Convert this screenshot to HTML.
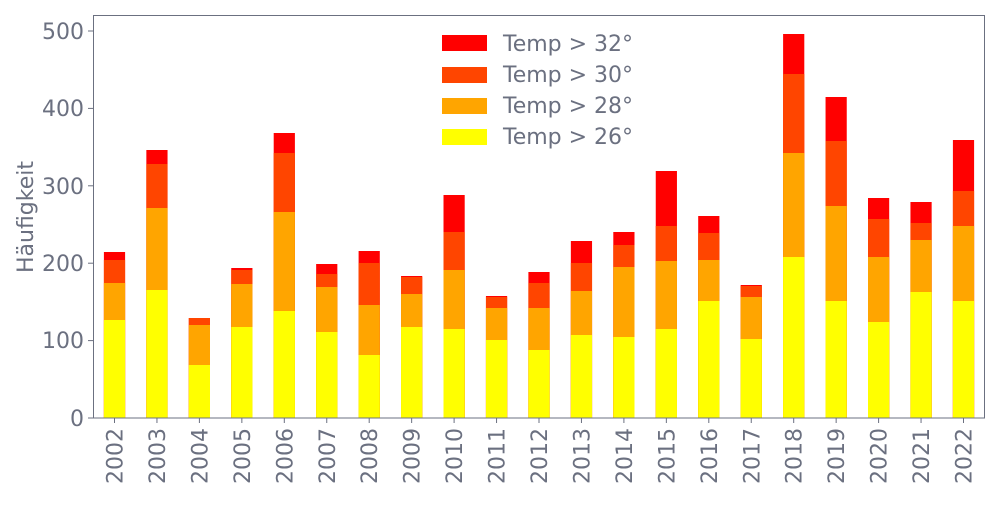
<!DOCTYPE html>
<html><head><meta charset="utf-8"><style>body{margin:0;background:#fff}</style></head><body>
<svg width="1000" height="500" xmlns="http://www.w3.org/2000/svg" font-family="'DejaVu Sans','Liberation Sans',sans-serif" fill="#6b7080">
<g fill="#ff0000">
<rect x="103.9" y="252" width="21.2" height="166"/><rect x="146.35" y="150" width="21.2" height="268"/><rect x="188.8" y="318" width="21.2" height="100"/><rect x="231.25" y="268" width="21.2" height="150"/><rect x="273.7" y="133" width="21.2" height="285"/><rect x="316.15" y="264" width="21.2" height="154"/><rect x="358.6" y="251" width="21.2" height="167"/><rect x="401.05" y="276" width="21.2" height="142"/><rect x="443.5" y="195" width="21.2" height="223"/><rect x="485.95" y="296" width="21.2" height="122"/><rect x="528.4" y="272" width="21.2" height="146"/><rect x="570.85" y="241" width="21.2" height="177"/><rect x="613.3" y="232" width="21.2" height="186"/><rect x="655.75" y="171" width="21.2" height="247"/><rect x="698.2" y="216" width="21.2" height="202"/><rect x="740.65" y="285" width="21.2" height="133"/><rect x="783.1" y="34" width="21.2" height="384"/><rect x="825.55" y="97" width="21.2" height="321"/><rect x="868" y="198" width="21.2" height="220"/><rect x="910.45" y="202" width="21.2" height="216"/><rect x="952.9" y="140" width="21.2" height="278"/>
</g>
<g fill="#ff4500">
<rect x="103.9" y="260" width="21.2" height="158"/><rect x="146.35" y="164" width="21.2" height="254"/><rect x="188.8" y="318" width="21.2" height="100"/><rect x="231.25" y="270" width="21.2" height="148"/><rect x="273.7" y="153" width="21.2" height="265"/><rect x="316.15" y="274" width="21.2" height="144"/><rect x="358.6" y="263" width="21.2" height="155"/><rect x="401.05" y="277" width="21.2" height="141"/><rect x="443.5" y="232" width="21.2" height="186"/><rect x="485.95" y="297" width="21.2" height="121"/><rect x="528.4" y="283" width="21.2" height="135"/><rect x="570.85" y="263" width="21.2" height="155"/><rect x="613.3" y="245" width="21.2" height="173"/><rect x="655.75" y="226" width="21.2" height="192"/><rect x="698.2" y="233" width="21.2" height="185"/><rect x="740.65" y="286" width="21.2" height="132"/><rect x="783.1" y="74" width="21.2" height="344"/><rect x="825.55" y="141" width="21.2" height="277"/><rect x="868" y="219" width="21.2" height="199"/><rect x="910.45" y="223" width="21.2" height="195"/><rect x="952.9" y="191" width="21.2" height="227"/>
</g>
<g fill="#ffa500">
<rect x="103.9" y="283" width="21.2" height="135"/><rect x="146.35" y="208" width="21.2" height="210"/><rect x="188.8" y="325" width="21.2" height="93"/><rect x="231.25" y="284" width="21.2" height="134"/><rect x="273.7" y="212" width="21.2" height="206"/><rect x="316.15" y="287" width="21.2" height="131"/><rect x="358.6" y="305" width="21.2" height="113"/><rect x="401.05" y="294" width="21.2" height="124"/><rect x="443.5" y="270" width="21.2" height="148"/><rect x="485.95" y="308" width="21.2" height="110"/><rect x="528.4" y="308" width="21.2" height="110"/><rect x="570.85" y="291" width="21.2" height="127"/><rect x="613.3" y="267" width="21.2" height="151"/><rect x="655.75" y="261" width="21.2" height="157"/><rect x="698.2" y="260" width="21.2" height="158"/><rect x="740.65" y="297" width="21.2" height="121"/><rect x="783.1" y="153" width="21.2" height="265"/><rect x="825.55" y="206" width="21.2" height="212"/><rect x="868" y="257" width="21.2" height="161"/><rect x="910.45" y="240" width="21.2" height="178"/><rect x="952.9" y="226" width="21.2" height="192"/>
</g>
<g fill="#ffff00">
<rect x="103.9" y="320" width="21.2" height="98"/><rect x="146.35" y="290" width="21.2" height="128"/><rect x="188.8" y="365" width="21.2" height="53"/><rect x="231.25" y="327" width="21.2" height="91"/><rect x="273.7" y="311" width="21.2" height="107"/><rect x="316.15" y="332" width="21.2" height="86"/><rect x="358.6" y="355" width="21.2" height="63"/><rect x="401.05" y="327" width="21.2" height="91"/><rect x="443.5" y="329" width="21.2" height="89"/><rect x="485.95" y="340" width="21.2" height="78"/><rect x="528.4" y="350" width="21.2" height="68"/><rect x="570.85" y="335" width="21.2" height="83"/><rect x="613.3" y="337" width="21.2" height="81"/><rect x="655.75" y="329" width="21.2" height="89"/><rect x="698.2" y="301" width="21.2" height="117"/><rect x="740.65" y="339" width="21.2" height="79"/><rect x="783.1" y="257" width="21.2" height="161"/><rect x="825.55" y="301" width="21.2" height="117"/><rect x="868" y="322" width="21.2" height="96"/><rect x="910.45" y="292" width="21.2" height="126"/><rect x="952.9" y="301" width="21.2" height="117"/>
</g>
<rect x="93.5" y="15.5" width="891" height="402.5" fill="none" stroke="#6b7080" stroke-width="1"/>
<g font-size="22" text-anchor="end">
<text x="84" y="426">0</text><text x="84" y="348">100</text><text x="84" y="271">200</text><text x="84" y="194">300</text><text x="84" y="116">400</text><text x="84" y="39">500</text>
</g>
<g stroke="#6b7080"><line x1="88" x2="93" y1="418" y2="418"/><line x1="88" x2="93" y1="340.6" y2="340.6"/><line x1="88" x2="93" y1="263.2" y2="263.2"/><line x1="88" x2="93" y1="185.8" y2="185.8"/><line x1="88" x2="93" y1="108.4" y2="108.4"/><line x1="88" x2="93" y1="31" y2="31"/>
<line x1="114.5" x2="114.5" y1="418" y2="423"/><line x1="156.95" x2="156.95" y1="418" y2="423"/><line x1="199.4" x2="199.4" y1="418" y2="423"/><line x1="241.85" x2="241.85" y1="418" y2="423"/><line x1="284.3" x2="284.3" y1="418" y2="423"/><line x1="326.75" x2="326.75" y1="418" y2="423"/><line x1="369.2" x2="369.2" y1="418" y2="423"/><line x1="411.65" x2="411.65" y1="418" y2="423"/><line x1="454.1" x2="454.1" y1="418" y2="423"/><line x1="496.55" x2="496.55" y1="418" y2="423"/><line x1="539" x2="539" y1="418" y2="423"/><line x1="581.45" x2="581.45" y1="418" y2="423"/><line x1="623.9" x2="623.9" y1="418" y2="423"/><line x1="666.35" x2="666.35" y1="418" y2="423"/><line x1="708.8" x2="708.8" y1="418" y2="423"/><line x1="751.25" x2="751.25" y1="418" y2="423"/><line x1="793.7" x2="793.7" y1="418" y2="423"/><line x1="836.15" x2="836.15" y1="418" y2="423"/><line x1="878.6" x2="878.6" y1="418" y2="423"/><line x1="921.05" x2="921.05" y1="418" y2="423"/><line x1="963.5" x2="963.5" y1="418" y2="423"/>
</g>
<text transform="translate(33,217) rotate(-90)" font-size="22" text-anchor="middle">Häufigkeit</text>
<g font-size="22">
<rect x="442" y="35" width="45" height="16" fill="#ff0000"/><text x="503" y="51">Temp &gt; 32°</text>
<rect x="442" y="67" width="45" height="16" fill="#ff4500"/><text x="503" y="82">Temp &gt; 30°</text>
<rect x="442" y="98" width="45" height="16" fill="#ffa500"/><text x="503" y="113">Temp &gt; 28°</text>
<rect x="442" y="129" width="45" height="16" fill="#ffff00"/><text x="503" y="144">Temp &gt; 26°</text>
</g>
<g font-size="22" text-anchor="end">
<text transform="translate(122.5,428) rotate(-90)">2002</text><text transform="translate(164.95,428) rotate(-90)">2003</text><text transform="translate(207.4,428) rotate(-90)">2004</text><text transform="translate(249.85,428) rotate(-90)">2005</text><text transform="translate(292.3,428) rotate(-90)">2006</text><text transform="translate(334.75,428) rotate(-90)">2007</text><text transform="translate(377.2,428) rotate(-90)">2008</text><text transform="translate(419.65,428) rotate(-90)">2009</text><text transform="translate(462.1,428) rotate(-90)">2010</text><text transform="translate(504.55,428) rotate(-90)">2011</text><text transform="translate(547,428) rotate(-90)">2012</text><text transform="translate(589.45,428) rotate(-90)">2013</text><text transform="translate(631.9,428) rotate(-90)">2014</text><text transform="translate(674.35,428) rotate(-90)">2015</text><text transform="translate(716.8,428) rotate(-90)">2016</text><text transform="translate(759.25,428) rotate(-90)">2017</text><text transform="translate(801.7,428) rotate(-90)">2018</text><text transform="translate(844.15,428) rotate(-90)">2019</text><text transform="translate(886.6,428) rotate(-90)">2020</text><text transform="translate(929.05,428) rotate(-90)">2021</text><text transform="translate(971.5,428) rotate(-90)">2022</text>
</g>
</svg>
</body></html>
